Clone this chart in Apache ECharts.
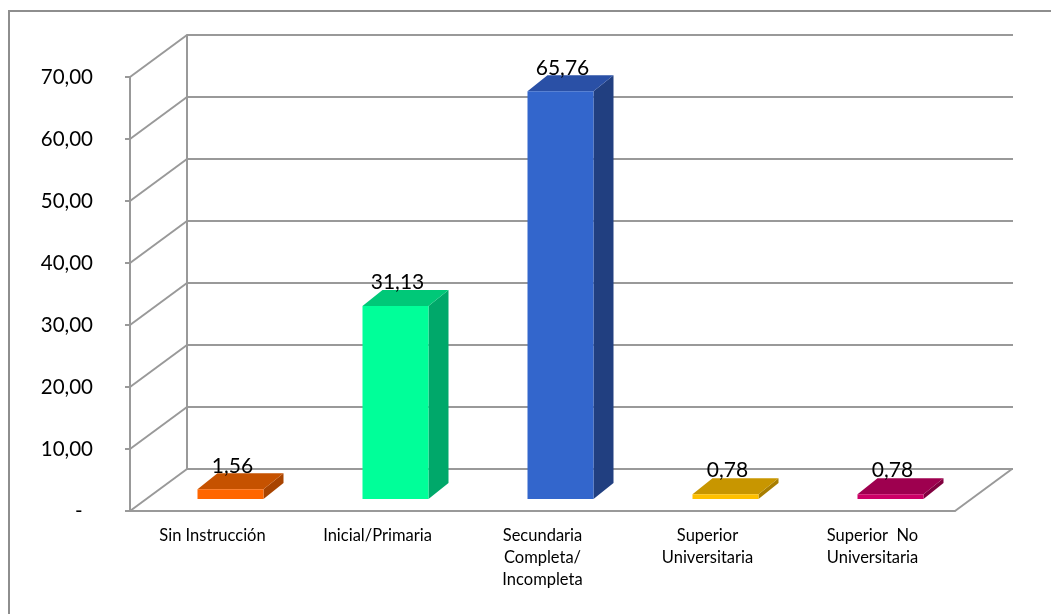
<!DOCTYPE html>
<html>
<head>
<meta charset="utf-8">
<script src="https://cdn.jsdelivr.net/npm/echarts@6/dist/echarts.min.js"></script>
<style>
html, body { margin: 0; padding: 0; background: #fff; }
#frame { position: absolute; left: 8px; top: 10px; width: 1100px; height: 700px; border: 2px solid #8e8e8e; }
#main { position: absolute; left: 0; top: 0; width: 1051px; height: 614px; }
</style>
</head>
<body>
<div id="frame"></div>
<div id="main"></div>
<script>
const categories = ['Sin Instrucción', 'Inicial/Primaria', 'Secundaria\nCompleta/\nIncompleta', 'Superior\nUniversitaria', 'Superior  No\nUniversitaria'];
const values = [1.56, 31.13, 65.76, 0.78, 0.78];
const yTicks = [0, 10, 20, 30, 40, 50, 60, 70];

const frontColors = ['#ff6600', '#00ff99', '#3366cc', '#ffc000', '#cc0066'];
const topColors = ['#c65200', '#00c878', '#2a50a6', '#c89600', '#9e004f'];
const sideColors = ['#a84400', '#00a86a', '#213f80', '#a87e00', '#80003f'];

// front plane (labels) and back wall (gridlines)
const FRONT = { left: 130, top: 77, width: 825, height: 434 };
const WALL = { left: 187, top: 35, width: 826, height: 434 };
const wallDx = WALL.left - FRONT.left, wallDy = WALL.top - FRONT.top;
const barDx = 18, barDy = -12;    // bars sit a bit inside the floor
const depthX = 20, depthY = -16;  // bar thickness
const lineColor = '#999';
const fontFam = 'Lato';

function fmt(v) { return v.toFixed(2).replace('.', ','); }

let myChart = echarts.init(document.getElementById('main'));
let option = {
  animation: false,
  grid: [
    Object.assign({}, FRONT),
    Object.assign({}, WALL)
  ],
  xAxis: [{
    type: 'category', gridIndex: 0, data: categories,
    axisLine: { lineStyle: { color: lineColor, width: 2 } },
    axisTick: { length: 6, lineStyle: { color: lineColor, width: 2 } },
    axisLabel: { margin: 14, color: '#000', fontSize: 16.5, fontFamily: fontFam, lineHeight: 22 }
  }, {
    type: 'category', gridIndex: 1, data: categories, show: false
  }],
  yAxis: [{
    type: 'value', gridIndex: 0, min: 0, max: 70, interval: 10,
    axisLine: { show: true, lineStyle: { color: lineColor, width: 2 } },
    axisTick: { show: true, length: 5, lineStyle: { color: lineColor, width: 2 } },
    splitLine: { show: false },
    axisLabel: {
      margin: 37, color: '#000', fontSize: 20.5, fontFamily: fontFam,
      formatter: v => v === 0 ? '-  ' : fmt(v)
    }
  }, {
    type: 'value', gridIndex: 1, min: 0, max: 70, interval: 10,
    axisLine: { show: true, lineStyle: { color: lineColor, width: 2 } },
    axisTick: { show: false },
    axisLabel: { show: false },
    splitLine: { show: true, lineStyle: { color: lineColor, width: 2 } }
  }],
  series: [{
    // diagonals from the front axis to the back wall
    type: 'custom', xAxisIndex: 0, yAxisIndex: 0, clip: false, silent: true, z: 1,
    data: yTicks.map(v => [0, v]),
    renderItem: function (params, api) {
      const p = api.coord([0, api.value(1)]);
      const x = p[0] - api.size([1, 0])[0] / 2;
      return {
        type: 'line',
        shape: { x1: x, y1: p[1], x2: x + wallDx, y2: p[1] + wallDy },
        style: { stroke: lineColor, lineWidth: 2 }
      };
    }
  }, {
    // right edge of the floor
    type: 'custom', xAxisIndex: 0, yAxisIndex: 0, clip: false, silent: true, z: 1,
    data: [[categories.length - 1, 0]],
    renderItem: function (params, api) {
      const p = api.coord([api.value(0), 0]);
      const x = p[0] + api.size([1, 0])[0] / 2;
      return {
        type: 'line',
        shape: { x1: x, y1: p[1], x2: x + wallDx, y2: p[1] + wallDy },
        style: { stroke: lineColor, lineWidth: 2 }
      };
    }
  }, {
    // 3d bars
    type: 'custom', xAxisIndex: 0, yAxisIndex: 0, clip: false, z: 5,
    data: values.map((v, i) => [i, v]),
    renderItem: function (params, api) {
      const i = api.value(0), v = api.value(1);
      const p0 = api.coord([i, 0]);
      const p1 = api.coord([i, v]);
      const w = api.size([1, 0])[0] * 0.4;
      const xl = p0[0] - w / 2 + barDx, xr = xl + w;
      const yb = p0[1] + barDy, yt = p1[1] + barDy;
      return {
        type: 'group',
        children: [{
          type: 'polygon',
          shape: { points: [[xr, yt], [xr + depthX, yt + depthY], [xr + depthX, yb + depthY], [xr, yb]] },
          style: { fill: sideColors[i] }
        }, {
          type: 'polygon',
          shape: { points: [[xl, yt], [xl + depthX, yt + depthY], [xr + depthX, yt + depthY], [xr, yt]] },
          style: { fill: topColors[i] }
        }, {
          type: 'rect',
          shape: { x: xl, y: yt, width: w, height: yb - yt },
          style: { fill: frontColors[i] }
        }, {
          type: 'text',
          style: {
            text: fmt(v), x: (xl + xr) / 2 + 2, y: yt + depthY + 3,
            align: 'center', verticalAlign: 'bottom',
            fontSize: 21, fontFamily: fontFam, fill: '#000'
          }
        }]
      };
    }
  }]
};

myChart.setOption(option);
</script>
</body>
</html>
